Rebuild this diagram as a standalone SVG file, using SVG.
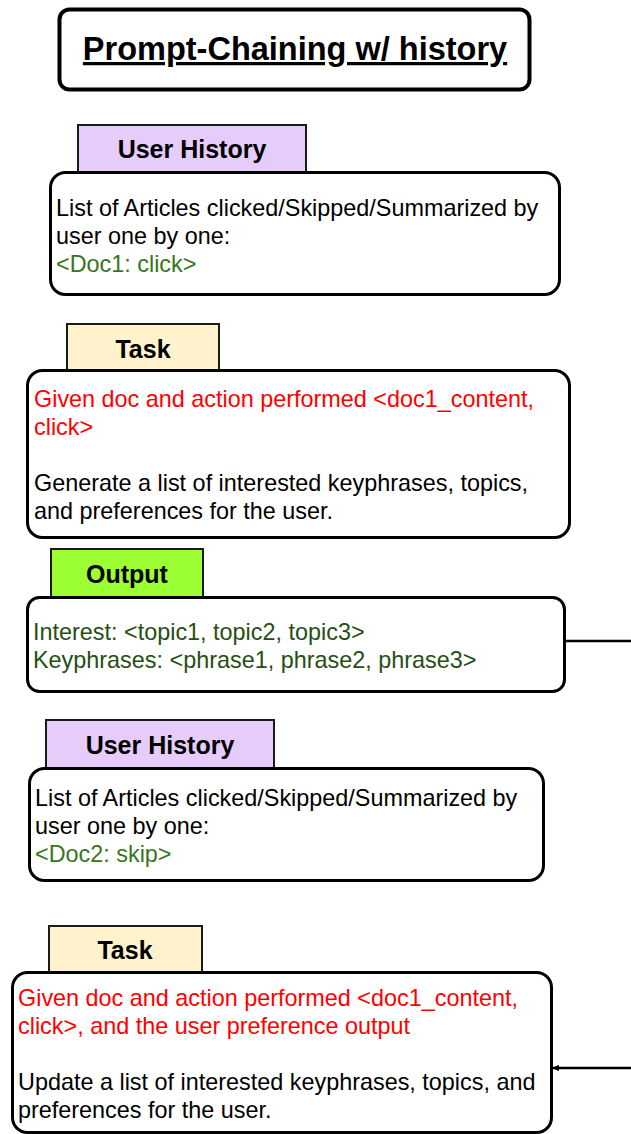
<svg xmlns="http://www.w3.org/2000/svg" width="631" height="1134" viewBox="0 0 631 1134">
<style>
  .box { fill: #ffffff; stroke: #000000; stroke-width: 3; }
  .tab { stroke: #1a1a1a; stroke-width: 2; }
  .hist { fill: #e5ccfa; }
  .task { fill: #fff2cc; }
  .out { fill: #9cff33; }
  .tabtxt { font-family: "Liberation Sans", Arial, sans-serif; font-weight: bold; font-size: 25px; fill: #000; text-anchor: middle; }
  .txt { font-family: "Liberation Sans", Arial, sans-serif; font-size: 23.4px; fill: #000; }
  .red { fill: #ff0000; }
  .g1 { fill: #38761d; }
  .g2 { fill: #274e13; }
  .conn { fill: none; stroke: #000; stroke-width: 2.5; }
</style>
<defs>
  <marker id="arrow" viewBox="0 0 10 10" refX="9" refY="5" markerWidth="2.6" markerHeight="2.6" orient="auto">
    <path d="M0,0 L10,5 L0,10 z" fill="#000"/>
  </marker>
</defs>
<rect width="631" height="1134" fill="#ffffff"/>

<g id="title">
  <rect x="59.5" y="9.5" width="470" height="80" rx="10" fill="#fff" stroke="#000" stroke-width="4"/>
  <text x="295" y="60" text-anchor="middle" font-family="'Liberation Sans', Arial, sans-serif" font-weight="bold" font-size="32.5px" text-decoration="underline">Prompt-Chaining w/ history</text>
</g>

<g id="user-history-1">
  <rect class="tab hist" x="78" y="125" width="228" height="47"/>
  <text class="tabtxt" x="192" y="158">User History</text>
  <rect class="box" x="50.5" y="172.5" width="509" height="122" rx="15"/>
  <text class="txt" x="56" y="216">List of Articles clicked/Skipped/Summarized by</text>
  <text class="txt" x="56" y="244">user one by one:</text>
  <text class="txt g1" x="56" y="272">&lt;Doc1: click&gt;</text>
</g>

<g id="task-1">
  <rect class="tab task" x="67" y="324" width="152" height="47"/>
  <text class="tabtxt" x="143" y="358">Task</text>
  <rect class="box" x="27.5" y="370.5" width="542" height="167" rx="15"/>
  <text class="txt red" x="34" y="407">Given doc and action performed &lt;doc1_content,</text>
  <text class="txt red" x="34" y="435">click&gt;</text>
  <text class="txt" x="34" y="491">Generate a list of interested keyphrases, topics,</text>
  <text class="txt" x="34" y="519">and preferences for the user.</text>
</g>

<g id="output">
  <rect class="tab out" x="51" y="549" width="152" height="48"/>
  <text class="tabtxt" x="127" y="583">Output</text>
  <rect class="box" x="27.5" y="597.5" width="537" height="94" rx="12"/>
  <text class="txt g2" x="33" y="640">Interest: &lt;topic1, topic2, topic3&gt;</text>
  <text class="txt g2" x="33" y="668">Keyphrases: &lt;phrase1, phrase2, phrase3&gt;</text>
</g>

<g id="user-history-2">
  <rect class="tab hist" x="46" y="720" width="228" height="48"/>
  <text class="tabtxt" x="160" y="754">User History</text>
  <rect class="box" x="29.5" y="768.5" width="514" height="112" rx="15"/>
  <text class="txt" x="35" y="806">List of Articles clicked/Skipped/Summarized by</text>
  <text class="txt" x="35" y="834">user one by one:</text>
  <text class="txt g1" x="35" y="862">&lt;Doc2: skip&gt;</text>
</g>

<g id="task-2">
  <rect class="tab task" x="49" y="926" width="153" height="47"/>
  <text class="tabtxt" x="125" y="959">Task</text>
  <rect class="box" x="12.5" y="972.5" width="539" height="160" rx="15"/>
  <text class="txt red" x="18" y="1006">Given doc and action performed &lt;doc1_content,</text>
  <text class="txt red" x="18" y="1034">click&gt;, and the user preference output</text>
  <text class="txt" x="18" y="1090">Update a list of interested keyphrases, topics, and</text>
  <text class="txt" x="18" y="1118">preferences for the user.</text>
</g>

<g id="connectors">
  <path class="conn" d="M565,641 L645,641 L645,1068 L553,1068" marker-end="url(#arrow)"/>
</g>
</svg>
